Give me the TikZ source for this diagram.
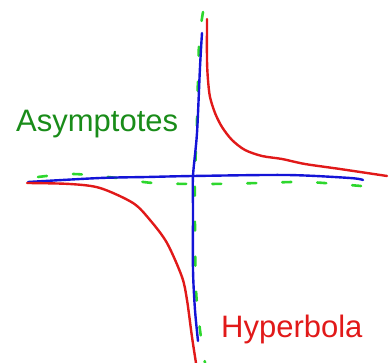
\documentclass[tikz,border=0pt]{standalone}
\usepackage{fontspec}
\setmainfont{Liberation Sans}
\usepackage{xcolor}
\usepackage{tikz}
\usetikzlibrary{positioning}
\definecolor{sketchRed}{RGB}{225,25,25}
\definecolor{sketchBlue}{RGB}{20,20,215}
\definecolor{sketchGreen}{RGB}{45,215,45}
\definecolor{sketchLabelGreen}{RGB}{25,140,25}
\tikzset{
  % hand-drawn strokes
  axisline/.style={
    draw=sketchBlue,
    line width=2.4pt,
    line cap=round,
    line join=round
  },
  asymline/.style={
    draw=sketchGreen,
    line width=2.6pt,
    line cap=round,
    dash pattern=on 9pt off 26pt
  },
  curveline/.style={
    draw=sketchRed,
    line width=2.4pt,
    line cap=round,
    line join=round
  },
  lab/.style={
    font=\fontsize{31}{31}\selectfont,
    inner sep=0pt
  }
}
\begin{document}
\begin{tikzpicture}[x=1pt,y=-1pt]

\useasboundingbox (0,0) rectangle (389,363);

% asymptotes (dashed)
\draw[asymline] plot[smooth] coordinates
  {(203,12) (199,45) (197,120) (195,176) (195,230) (196,290) (200,330) (205,363)};
\draw[asymline] plot[smooth] coordinates
  {(38,177) (73,174) (117,178) (153,183) (207,184) (260,183) (307,182) (361,186)};

% axes
\draw[axisline] plot[smooth] coordinates
  {(202,33) (200,67) (197,133) (193,176) (193,210) (193,270) (195,310) (198,341)};
\draw[axisline] plot[smooth] coordinates
  {(28,182) (100,178) (147,177) (193,176) (287,175) (350,178) (363,180)};

% hyperbola branches
\draw[curveline] plot[smooth] coordinates
  {(207,19) (207,60) (208,80) (210,97) (215,113) (222,127) (232,140) (245,150) (262,156) (282,159) (305,164) (340,169) (387,176)};
\draw[curveline] plot[smooth] coordinates
  {(27,183) (70,184) (100,188) (133,203) (150,220) (167,243) (182,277) (187,300) (192,337) (196,363)};

% labels
\node[lab, text=sketchLabelGreen, anchor=base west] (asymlabel) at (16,132) {Asymptotes};
\node[lab, text=sketchRed, anchor=base west] (hyplabel) at (221,338) {Hyperbola};

\end{tikzpicture}
\end{document}
